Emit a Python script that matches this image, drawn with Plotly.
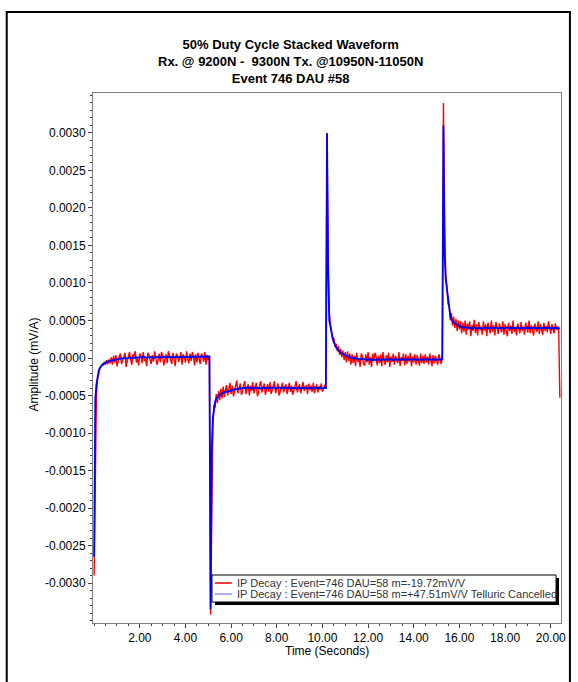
import plotly.graph_objects as go

# ---------------- data (amplitudes in units of 0.00001 mV/A) ----------------
DT = 0.05                      # sampling interval (s)
SWITCH_TIMES = [0.0, 5.1, 10.2, 15.3]
END_TIME = 20.4
VALUE_UNIT = 1e-5

RED_SEG1 = [-290, -140, -48, -28, -20, -14, -12, -8, -10, -5, -9, -3, -8, -2, -7, 1, -9,
            3, -6, 4, -11, -3, 2, 6, -8, -2, 1, 7, -12, -4, 3, 8, -2, -9,
            5, 2, 9, -6, -1, -10, 6, 3, -7, 8, -4, -1, -11, 7, 4, -2, -8,
            4, -5, 9, 2, -9, -3, 6, -6, 8, 3, -10, -2, 5, -7, 9, 4, -4,
            -8, 7, -1, -11, 6, 3, -5, -1, 8, -9, 5, 1, -6, 9, -2, -7, 6,
            -4, 8, 2, -10, 5, -6, 7, -2, -8, 6, 2, -5, 8, -9, 4, -3, 3]
RED_SEG2 = [-342, -180, -92, -62, -66, -48, -60, -44, -56, -41, -54, -38, -52, -43, -36, -50, -41,
            -33, -48, -37, -51, -44, -35, -30, -47, -39, -34, -49, -45, -36, -31, -48, -40, -35,
            -50, -37, -44, -32, -47, -39, -33, -51, -46, -36, -31, -46, -38, -34, -49, -40, -35,
            -45, -32, -48, -41, -37, -31, -47, -39, -34, -50, -44, -36, -33, -46, -38, -35, -48,
            -40, -33, -45, -37, -49, -42, -34, -31, -46, -39, -35, -47, -38, -32, -44, -40, -36,
            -48, -34, -43, -37, -45, -33, -47, -39, -35, -46, -38, -42, -34, -45, -39, -36, -41]
RED_SEG3 = [297, 140, 62, 45, 36, 24, 27, 15, 19, 9, 16, 4, 12, 1, 10, -3, 8,
            -6, 9, -4, 6, -9, 5, -7, 3, -11, 7, -5, -1, -12, 6, 2, -8, -10,
            5, -6, 8, -9, 1, -12, 6, -4, 7, 2, -10, 3, -7, 5, -11, 8, -3,
            -9, 4, -6, 7, -12, 2, -5, 6, -9, 3, -1, -7, 8, -11, 1, -4, 6,
            -10, 5, -8, 3, -5, 7, -11, 2, -6, 5, -9, 4, -3, -10, 6, -7, 3,
            -8, 5, -6, 2, -9, 6, -4, -11, 4, -7, 3, -5, -9, 5, -2, -8, 4]
RED_SEG4 = [340, 178, 112, 96, 72, 70, 50, 60, 43, 55, 40, 52, 36, 50, 38, 49, 33,
            47, 35, 50, 31, 46, 38, 49, 29, 44, 36, 51, 33, 45, 30, 48, 37, 42,
            31, 49, 36, 45, 29, 47, 38, 33, 50, 35, 44, 30, 48, 37, 32, 46, 39,
            34, 49, 31, 45, 38, 29, 47, 36, 43, 32, 50, 35, 41, 30, 46, 38, 33,
            48, 36, 42, 31, 47, 39, 34, 50, 33, 44, 37, 30, 46, 40, 35, 49, 32,
            45, 38, 31, 47, 36, 43, 34, 49, 37, 32, 45, 39, 33, 46, 38, 42, 36]
RED_END = -53

BLUE_SEG1 = [-265, -55, -35, -22, -17, -13, -11, -9, -8, -7, -6, -5, -5, -4, -4, -3, -3,
             -3, -2, -2, -2, -1, -1, -1, 0, -1, 0, 0, -1, 0, 0, 1, 0, 0,
             1, 0, 1, 1, 0, 1, 0, 1, 1, 2, 1, 1, 0, 1, 1, 2, 1,
             1, 0, 1, 1, 1, 2, 1, 1, 0, 1, 2, 1, 1, 1, 2, 1, 1,
             2, 1, 1, 1, 2, 2, 1, 1, 1, 2, 1, 1, 2, 2, 1, 1, 2,
             1, 2, 2, 1, 1, 2, 2, 1, 2, 2, 1, 2, 1, 2, 2, 1, 2]
BLUE_SEG2 = [-335, -120, -80, -65, -58, -54, -52, -50, -49, -48, -47, -46, -46, -45, -45, -44, -44,
             -44, -43, -43, -42, -42, -42, -41, -41, -41, -40, -41, -40, -40, -41, -40, -39, -40,
             -40, -39, -40, -41, -40, -39, -40, -40, -39, -40, -41, -40, -39, -40, -40, -39, -40,
             -41, -40, -39, -40, -40, -39, -41, -40, -40, -39, -40, -40, -41, -40, -39, -40, -40,
             -39, -40, -41, -40, -40, -39, -40, -41, -40, -39, -40, -40, -41, -40, -39, -40, -41,
             -40, -40, -39, -40, -41, -40, -39, -40, -40, -41, -40, -39, -40, -41, -40, -40, -40]
BLUE_SEG3 = [300, 110, 50, 40, 31, 26, 21, 17, 14, 12, 10, 8, 7, 6, 5, 4, 3,
             3, 2, 2, 1, 1, 0, 0, -1, 0, -1, -1, -2, -1, -2, -2, -1, -2,
             -2, -3, -2, -2, -1, -2, -3, -2, -2, -3, -2, -1, -2, -3, -2, -2, -3,
             -2, -2, -3, -2, -1, -2, -3, -3, -2, -2, -3, -2, -2, -3, -2, -1, -2,
             -3, -2, -2, -3, -3, -2, -2, -3, -2, -1, -2, -3, -2, -2, -3, -2, -2,
             -3, -2, -2, -3, -2, -2, -3, -2, -1, -2, -3, -2, -2, -3, -2, -3, -2]
BLUE_SEG4 = [310, 140, 105, 92, 78, 66, 57, 52, 49, 47, 46, 45, 44, 43, 42, 42, 41,
             41, 41, 40, 41, 40, 40, 41, 40, 39, 40, 41, 40, 39, 40, 40, 41, 40,
             39, 40, 40, 41, 40, 39, 40, 41, 40, 40, 39, 40, 41, 40, 39, 40, 40,
             41, 40, 39, 40, 40, 41, 40, 39, 40, 41, 40, 40, 39, 40, 41, 40, 39,
             40, 40, 41, 40, 39, 40, 41, 40, 40, 39, 40, 41, 40, 39, 40, 40, 41,
             40, 39, 40, 41, 40, 40, 39, 40, 41, 40, 39, 40, 40, 41, 40, 39, 40]
BLUE_END = 39

RED_NAME = "IP Decay : Event=746 DAU=58 m=-19.72mV/V"
BLUE_NAME = "IP Decay : Event=746 DAU=58 m=+47.51mV/V Telluric Cancelled"

X_TICKS = [2, 4, 6, 8, 10, 12, 14, 16, 18, 20]
X_TICK_TEXT = ["2.00", "4.00", "6.00", "8.00", "10.00", "12.00", "14.00", "16.00", "18.00", "20.00"]
Y_TICKS = [-0.003, -0.0025, -0.002, -0.0015, -0.001, -0.0005, 0.0, 0.0005, 0.001, 0.0015, 0.002, 0.0025, 0.003]
Y_TICK_TEXT = ["-0.0030", "-0.0025", "-0.0020", "-0.0015", "-0.0010", "-0.0005", "0.0000",
               "0.0005", "0.0010", "0.0015", "0.0020", "0.0025", "0.0030"]

TITLE_LINES = ["50% Duty Cycle Stacked Waveform",
               "Rx. @ 9200N -\u00a0 9300N Tx. @10950N-11050N",
               "Event 746 DAU #58"]


def build(segs, end_val):
    t, v = [], []
    for t0, seg in zip(SWITCH_TIMES, segs):
        for j, val in enumerate(seg):
            t.append(round(t0 + j * DT, 4))
            v.append(val * VALUE_UNIT)
    t.append(END_TIME)
    v.append(end_val * VALUE_UNIT)
    return t, v


red_t, red_v = build([RED_SEG1, RED_SEG2, RED_SEG3, RED_SEG4], RED_END)
blue_t, blue_v = build([BLUE_SEG1, BLUE_SEG2, BLUE_SEG3, BLUE_SEG4], BLUE_END)

# ---------------- layout geometry ----------------
W, H = 578, 682
L, R, T, B = 93, 13, 93, 59
PW, PH = W - L - R, H - T - B


def px(x):
    return (x - L) / PW


def py(y):
    return (H - B - y) / PH


FONT = "Arial, Liberation Sans, sans-serif"

fig = go.Figure()
fig.add_trace(go.Scatter(x=red_t, y=red_v, mode="lines", name=RED_NAME,
                         line=dict(color="#ff0000", width=1.4), showlegend=False))
fig.add_trace(go.Scatter(x=blue_t, y=blue_v, mode="lines", name=BLUE_NAME,
                         line=dict(color="#0000ff", width=1.8), showlegend=False))

axis_common = dict(showgrid=False, zeroline=False, showline=True, linecolor="#808080",
                   linewidth=1, mirror=True, ticks="outside", ticklen=4, tickcolor="#404040",
                   tickfont=dict(family=FONT, size=12, color="#000000"))

fig.update_xaxes(range=[-0.05, 20.45], tickmode="array", tickvals=X_TICKS, ticktext=X_TICK_TEXT,
                 minor=dict(tick0=0, dtick=0.5, ticks="outside", ticklen=2, tickcolor="#404040"),
                 **axis_common)
fig.update_yaxes(range=[-0.003533, 0.003533], tickmode="array", tickvals=Y_TICKS, ticktext=Y_TICK_TEXT,
                 minor=dict(tick0=0, dtick=0.0001, ticks="outside", ticklen=2, tickcolor="#404040"),
                 **axis_common)

shapes = []
# outer black frame
shapes.append(dict(type="rect", xref="paper", yref="paper", x0=px(6), x1=px(574), y0=py(12), y1=py(700),
                   line=dict(color="#000000", width=2), fillcolor="rgba(0,0,0,0)", layer="above"))
# legend shadow + box
shapes.append(dict(type="rect", xref="paper", yref="paper", x0=px(216), x1=px(563), y0=py(578), y1=py(605),
                   line=dict(width=0), fillcolor="#000000", layer="above"))
shapes.append(dict(type="rect", xref="paper", yref="paper", x0=px(213), x1=px(560), y0=py(575), y1=py(602),
                   line=dict(color="#000000", width=1), fillcolor="#ffffff", layer="above"))
shapes.append(dict(type="line", xref="paper", yref="paper", x0=px(216), x1=px(233), y0=py(583), y1=py(583),
                   line=dict(color="#ff0000", width=1.5), layer="above"))
shapes.append(dict(type="line", xref="paper", yref="paper", x0=px(216), x1=px(233), y0=py(594), y1=py(594),
                   line=dict(color="#8c8cff", width=1.5), layer="above"))

annotations = [
    dict(text="<br>".join("<b>%s</b>" % s for s in TITLE_LINES), xref="paper", yref="paper",
         x=px(292), y=py(88), xanchor="center", yanchor="bottom", showarrow=False,
         font=dict(family=FONT, size=13, color="#000000"), align="center"),
    dict(text="Amplitude (mV/A)", xref="paper", yref="paper", x=px(33), y=py(365),
         xanchor="center", yanchor="middle", textangle=-90, showarrow=False,
         font=dict(family=FONT, size=12, color="#000000")),
    dict(text="Time (Seconds)", xref="paper", yref="paper", x=px(329), y=py(651),
         xanchor="center", yanchor="middle", showarrow=False,
         font=dict(family=FONT, size=12, color="#000000")),
    dict(text=RED_NAME, xref="paper", yref="paper", x=px(236), y=py(583),
         xanchor="left", yanchor="middle", showarrow=False,
         font=dict(family=FONT, size=11, color="#333333")),
    dict(text=BLUE_NAME, xref="paper", yref="paper", x=px(236), y=py(594),
         xanchor="left", yanchor="middle", showarrow=False,
         font=dict(family=FONT, size=11, color="#333333")),
]

fig.update_layout(width=W, height=H, margin=dict(l=L, r=R, t=T, b=B, pad=0),
                  paper_bgcolor="#ffffff", plot_bgcolor="#ffffff",
                  shapes=shapes, annotations=annotations, showlegend=False)

fig.write_html("out.html", config={"displayModeBar": False},
               post_script="document.body.style.margin='0px';document.body.style.overflow='hidden';")
